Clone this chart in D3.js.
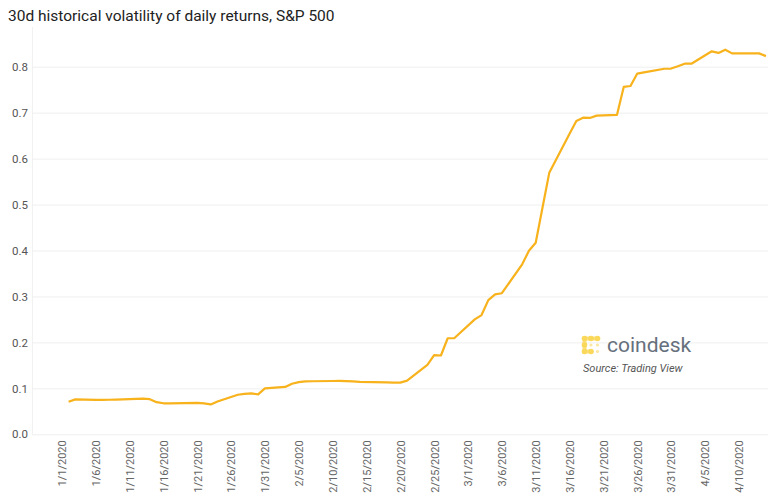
<!DOCTYPE html>
<html>
<head>
<meta charset="utf-8">
<script src="https://cdn.jsdelivr.net/npm/d3@7"></script>
<style>
  html, body { margin: 0; padding: 0; background: #fff; }
  svg { display: block; font-family: Roboto, "Noto Sans", sans-serif; }
</style>
</head>
<body>
<svg id="chart" width="775" height="500"></svg>
<script>
// ---- data ----
const dates = [
  "2020-01-02","2020-01-03","2020-01-06","2020-01-07","2020-01-08","2020-01-09","2020-01-10",
  "2020-01-13","2020-01-14","2020-01-15","2020-01-16","2020-01-17","2020-01-21","2020-01-22",
  "2020-01-23","2020-01-24","2020-01-27","2020-01-28","2020-01-29","2020-01-30","2020-01-31",
  "2020-02-03","2020-02-04","2020-02-05","2020-02-06","2020-02-07","2020-02-10","2020-02-11",
  "2020-02-12","2020-02-13","2020-02-14","2020-02-18","2020-02-19","2020-02-20","2020-02-21",
  "2020-02-24","2020-02-25","2020-02-26","2020-02-27","2020-02-28","2020-03-02","2020-03-03",
  "2020-03-04","2020-03-05","2020-03-06","2020-03-09","2020-03-10","2020-03-11","2020-03-12",
  "2020-03-13","2020-03-16","2020-03-17","2020-03-18","2020-03-19","2020-03-20","2020-03-23",
  "2020-03-24","2020-03-25","2020-03-26","2020-03-27","2020-03-30","2020-03-31","2020-04-01",
  "2020-04-02","2020-04-03","2020-04-06","2020-04-07","2020-04-08","2020-04-09","2020-04-13",
  "2020-04-14"
];
const volatility = [
  0.071,0.076,0.075,0.075,0.0752,0.0755,0.076,
  0.0775,0.0765,0.070,0.0675,0.0675,0.0685,0.0672,
  0.065,0.0715,0.086,0.088,0.089,0.087,0.100,
  0.103,0.110,0.1135,0.115,0.1155,0.116,0.1162,
  0.1158,0.115,0.114,0.113,0.1125,0.1125,0.1168,
  0.151,0.1725,0.1715,0.209,0.2095,0.250,0.2595,
  0.292,0.3045,0.307,0.370,0.3995,0.417,0.493,
  0.569,0.654,0.682,0.689,0.6885,0.6935,0.695,
  0.756,0.758,0.785,0.7876,0.7955,0.796,0.801,
  0.8065,0.8065,0.8335,0.830,0.837,0.829,0.829,
  0.823
];
const yTicks = [0, 0.1, 0.2, 0.3, 0.4, 0.5, 0.6, 0.7, 0.8];
const xTickDates = [
  "2020-01-01","2020-01-06","2020-01-11","2020-01-16","2020-01-21","2020-01-26","2020-01-31",
  "2020-02-05","2020-02-10","2020-02-15","2020-02-20","2020-02-25","2020-03-01","2020-03-06",
  "2020-03-11","2020-03-16","2020-03-21","2020-03-26","2020-03-31","2020-04-05","2020-04-10"
];
const title = "30d historical volatility of daily returns, S&P 500";
const brandName = "coindesk";
const sourceText = "Source: Trading View";

// ---- layout ----
const svg = d3.select("#chart");
const plotLeft = 32, plotRight = 768, plotTop = 27, plotBottom = 434.3;

const parse = d3.utcParse("%Y-%m-%d");
const fmt = d3.utcFormat("%-m/%-d/%Y");
const data = dates.map((d, i) => ({ date: parse(d), value: volatility[i] }));

const x = d3.scaleUtc()
  .domain([parse("2020-01-01"), parse("2020-04-14")])
  .range([61.8, 765.9]);
const y = d3.scaleLinear()
  .domain([0, 0.8])
  .range([plotBottom, 66.7]);

// title
svg.append("text")
  .attr("x", 8).attr("y", 20.5)
  .attr("font-size", 15.5)
  .attr("fill", "#222")
  .text(title);

// left frame line
svg.append("line")
  .attr("x1", plotLeft + 0.5).attr("x2", plotLeft + 0.5)
  .attr("y1", plotTop).attr("y2", plotBottom)
  .attr("stroke", "#f1f1f1");

// y axis + grid
const yAxis = svg.append("g")
  .attr("transform", `translate(${plotLeft},0)`)
  .call(d3.axisLeft(y).tickValues(yTicks).tickFormat(d3.format(".1f"))
    .tickSize(-(plotRight - plotLeft)).tickPadding(4));
yAxis.select(".domain").remove();
yAxis.selectAll(".tick line").attr("stroke", "#efefef");
yAxis.selectAll(".tick text")
  .attr("fill", "#555").attr("font-size", 11.5)
  .attr("font-family", "Roboto, sans-serif");

// x axis
const xAxis = svg.append("g")
  .attr("transform", `translate(0,${plotBottom})`)
  .call(d3.axisBottom(x).tickValues(xTickDates.map(parse)).tickFormat(fmt).tickSize(0));
xAxis.select(".domain").remove();
xAxis.selectAll(".tick text")
  .attr("fill", "#666").attr("font-size", 11)
  .attr("font-family", "Roboto, sans-serif")
  .attr("transform", "rotate(-90)")
  .attr("x", -6).attr("y", 0).attr("dy", "0.35em")
  .attr("text-anchor", "end");

// line
const line = d3.line().x(d => x(d.date)).y(d => y(d.value));
svg.append("path")
  .datum(data)
  .attr("fill", "none")
  .attr("stroke", "#f7b21c")
  .attr("stroke-width", 2.2)
  .attr("stroke-linejoin", "round")
  .attr("d", line);

// logo
const logo = svg.append("g").attr("transform", "translate(584.5,338.5)");
const gap = 6.5;
const solid = [[0,0],[1,0],[2,0],[0,1],[0,2],[1,2]];
const faint = [[1,1],[2,1],[2,2]];
logo.append("path")
  .attr("d", `M${2*gap},0 L0,0 L0,${2*gap} L${gap},${2*gap}`)
  .attr("fill", "none").attr("stroke", "#fbe080").attr("stroke-width", 4);
logo.selectAll("circle.s").data(solid).join("circle")
  .attr("cx", d => d[0] * gap).attr("cy", d => d[1] * gap)
  .attr("r", 2.8).attr("fill", "#f9d85a");
logo.selectAll("circle.f").data(faint).join("circle")
  .attr("cx", d => d[0] * gap).attr("cy", d => d[1] * gap)
  .attr("r", 1.6).attr("fill", "#fbe7a0");

svg.append("text")
  .attr("x", 607).attr("y", 352)
  .attr("font-size", 21)
  .attr("fill", "#66707d")
  .attr("font-family", "Roboto, sans-serif")
  .text(brandName);
svg.append("text")
  .attr("x", 583).attr("y", 371.5)
  .attr("font-size", 11)
  .attr("font-style", "italic")
  .attr("fill", "#555")
  .text(sourceText);
</script>
</body>
</html>
